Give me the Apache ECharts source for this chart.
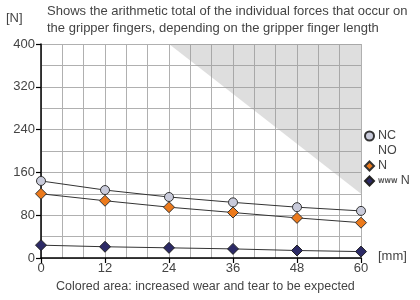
<!DOCTYPE html>
<html><head><meta charset="utf-8">
<script src="https://cdn.jsdelivr.net/npm/echarts@6/dist/echarts.min.js"></script>
<style>html,body{margin:0;padding:0;background:#fff}#c{width:420px;height:300px}</style>
</head><body><div id="c"></div>
<script>
const fingerLength = [0, 12, 24, 36, 48, 60];
const forceNC = [144, 127, 114, 104, 95, 88];
const forceN = [120, 107, 95, 85, 75, 66];
const forceSpring = [24, 21, 19, 17, 14, 12];
const wearBoundary = [[24, 400], [60, 120]];
const yTicks = [0, 80, 160, 240, 320, 400];
const xTicks = [0, 12, 24, 36, 48, 60];

const F = 'Liberation Sans, Arial, sans-serif';
const txt = '#444';
const lineCol = '#333';
const pair = (xs, ys) => xs.map((x, i) => [x, ys[i]]);

const chart = echarts.init(document.getElementById('c'), null, {renderer: 'canvas'});
chart.setOption({
  animation: false,
  textStyle: {fontFamily: F},
  grid: {left: 41, right: 59, top: 44, bottom: 42},
  xAxis: {
    type: 'value', min: xTicks[0], max: xTicks[xTicks.length - 1], interval: 12,
    axisLine: {onZero: false, lineStyle: {color: '#000', width: 1.5}},
    axisTick: {show: true, length: 5, lineStyle: {color: '#000', width: 1.2}},
    axisLabel: {color: txt, fontSize: 13, margin: 4, fontFamily: F},
    splitLine: {show: true, lineStyle: {color: '#b0b0b0', width: 1}},
    minorTick: {show: false, splitNumber: 3},
    minorSplitLine: {show: true, lineStyle: {color: '#b0b0b0', width: 1}}
  },
  yAxis: {
    type: 'value', min: yTicks[0], max: yTicks[yTicks.length - 1], interval: 80,
    axisLine: {show: true, lineStyle: {color: '#000', width: 1.5}},
    axisTick: {show: true, length: 5, lineStyle: {color: '#000', width: 1.2}},
    axisLabel: {color: txt, fontSize: 13, margin: 6, fontFamily: F},
    splitLine: {show: true, lineStyle: {color: '#b0b0b0', width: 1}},
    minorTick: {show: false, splitNumber: 2},
    minorSplitLine: {show: true, lineStyle: {color: '#b0b0b0', width: 1}}
  },
  legend: {
    orient: 'vertical', left: 364, top: 129, itemGap: 1,
    itemWidth: 9, itemHeight: 9, padding: 0,
    textStyle: {color: txt, fontSize: 12.5, fontFamily: F, padding: [0, 0, 0, -1], lineHeight: 14,
      rich: {sp: {fontSize: 6.5, fontWeight: 'bold', color: '#555', fontFamily: 'DejaVu Sans Condensed'}}},
    formatter: function (name) { return name === 'Nspring' ? '{sp|WWW} N' : name; },
    data: [
      {name: 'NC', icon: 'circle'},
      {name: 'NO', icon: 'circle', itemStyle: {color: 'rgba(0,0,0,0)', borderWidth: 0}},
      {name: 'N', icon: 'diamond'},
      {name: 'Nspring', icon: 'diamond'}
    ]
  },
  series: [
    {
      name: 'wear', type: 'line', data: wearBoundary, symbol: 'none', silent: true,
      lineStyle: {width: 0}, areaStyle: {origin: 'end', color: 'rgba(150,150,150,0.45)'}, z: 1
    },
    {
      name: 'NC', type: 'line', data: pair(fingerLength, forceNC),
      symbol: 'circle', symbolSize: 9, showAllSymbol: true,
      lineStyle: {color: lineCol, width: 1},
      itemStyle: {color: '#c9cbdb', borderColor: '#333', borderWidth: 1}, z: 3
    },
    {
      name: 'NO', type: 'line', data: [], symbol: 'none',
      lineStyle: {width: 0}, itemStyle: {color: 'rgba(0,0,0,0)'}
    },
    {
      name: 'N', type: 'line', data: pair(fingerLength, forceN),
      symbol: 'diamond', symbolSize: 11,
      lineStyle: {color: lineCol, width: 1},
      itemStyle: {color: '#ec7a1c', borderColor: '#333', borderWidth: 1}, z: 3
    },
    {
      name: 'Nspring', type: 'line', data: pair(fingerLength, forceSpring),
      symbol: 'diamond', symbolSize: 11,
      lineStyle: {color: lineCol, width: 1},
      itemStyle: {color: '#2c2a66', borderColor: '#222', borderWidth: 1}, z: 3
    }
  ],
  graphic: [
    {type: 'text', left: 6, top: 12, style: {text: '[N]', fontSize: 13, fill: txt, fontFamily: F}},
    {type: 'text', left: 47, top: 3, style: {text: 'Shows the arithmetic total of the individual forces that occur on\nthe gripper fingers, depending on the gripper finger length', fontSize: 13, lineHeight: 17, fill: txt, fontFamily: F}},
    {type: 'text', left: 378, top: 250, style: {text: '[mm]', fontSize: 13, fill: txt, fontFamily: F}},
    {type: 'text', left: 56, top: 280, style: {text: 'Colored area: increased wear and tear to be expected', fontSize: 12.5, fill: txt, fontFamily: F}}
  ]
});
</script></body></html>
